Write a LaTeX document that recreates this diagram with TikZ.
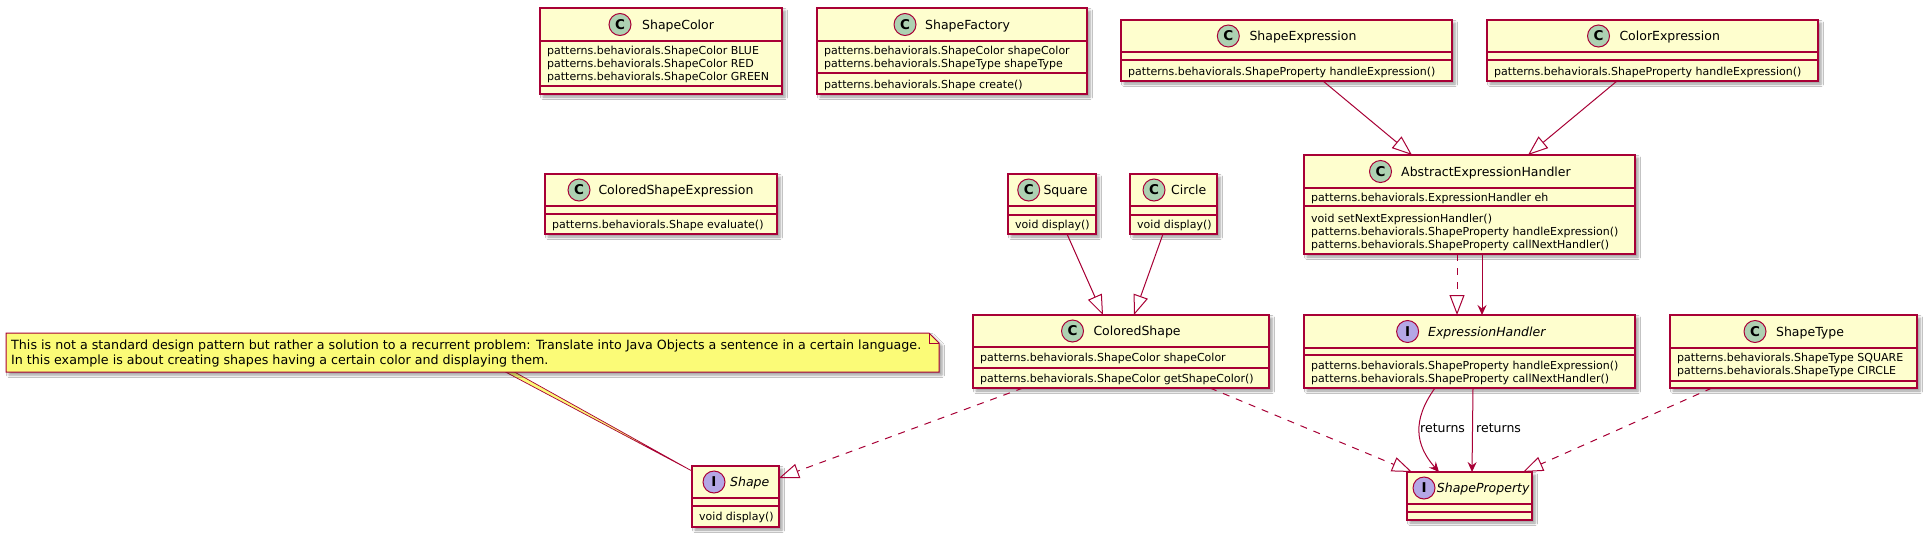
\documentclass[tikz,border=0pt]{standalone}
\usepackage{fontspec}
\setmainfont{DejaVu Sans}[ItalicFont={DejaVu Sans Oblique},BoldFont={DejaVu Sans Bold}]
\usetikzlibrary{arrows.meta,shadows.blur,calc}
\definecolor{bd}{HTML}{A80036}
\definecolor{boxfill}{HTML}{FEFECE}
\definecolor{ciconc}{HTML}{ADD1B2}
\definecolor{iiconc}{HTML}{B4A7E5}
\definecolor{notefill}{HTML}{FBFB77}
\tikzset{
  shd/.style={blur shadow={shadow xshift=3pt,shadow yshift=-3pt,shadow opacity=40,shadow blur radius=2.5pt}},
  cls/.style={draw=bd,fill=boxfill,line width=1.5pt,inner sep=0pt,outer sep=0pt,shd},
  divider/.style={draw=bd,line width=1.5pt},
  ttl/.style={font=\fontsize{12.5}{15}\selectfont,inner sep=0pt,anchor=base west},
  ittl/.style={font=\fontsize{12.5}{15}\selectfont\itshape,inner sep=0pt,anchor=base west},
  member/.style={font=\fontsize{11}{13}\selectfont,inner sep=0pt,anchor=base west},
  iconc/.style={circle,draw=bd,line width=1pt,fill=ciconc,minimum size=22pt,inner sep=0pt,font=\fontsize{13.5}{13.5}\selectfont\bfseries},
  iconi/.style={circle,draw=bd,line width=1pt,fill=iiconc,minimum size=22pt,inner sep=0pt,font=\fontsize{13.5}{13.5}\selectfont\bfseries},
  lnk/.style={draw=bd,line width=1pt},
  ext/.style={lnk,-{Triangle[open,length=20pt,width=15pt]}},
  impl/.style={ext,dash pattern=on 7pt off 7pt},
  assoc/.style={lnk,-{Stealth[length=10pt,width=9pt,inset=3.5pt]}},
  lbl/.style={font=\fontsize{12.5}{15}\selectfont,inner sep=0pt,anchor=base west},
  notetxt/.style={inner sep=0pt,anchor=base west},
}
% #1 name, #2 icon style, #3 letter, #4 icon x, #5 header centre y, #6 title x, #7 title style, #8 title
\newcommand\hdr[8]{%
  \node[#2] (#1icon) at (#4,#5) {#3};
  \node[#7] (#1title) at (#6,#5+4.5) {#8};}
\newcommand\mem[4]{\node[member] (#1) at (#2,#3) {#4};}
\newcommand\divl[2]{\draw[divider] (#1.west |- 0,#2) -- (#1.east |- 0,#2);}
\newlength\notew
\newcommand\notelinea{This is not a standard design pattern but rather a solution to a recurrent problem: Translate into Java Objects a sentence in a certain language.}
\begin{document}
\settowidth\notew{\fontsize{10}{12}\selectfont\notelinea}
\pgfmathsetmacro\nfs{10*910/\notew}
\begin{tikzpicture}[x=1pt,y=-1pt]
\fill[white] (0,0) rectangle (1927,536);
\useasboundingbox (0,0) rectangle (1927,536);

% ---------- ShapeColor
\node[cls,minimum width=242pt,minimum height=86pt] (sc) at (661,51) {};
\divl{sc}{41}\divl{sc}{86}
\hdr{sc}{iconc}{C}{620}{24.5}{642}{ttl}{ShapeColor}
\mem{sca}{547}{54}{patterns.behaviorals.ShapeColor BLUE}
\mem{scb}{547}{67}{patterns.behaviorals.ShapeColor RED}
\mem{scc}{547}{80}{patterns.behaviorals.ShapeColor GREEN}

% ---------- ShapeFactory
\node[cls,minimum width=270pt,minimum height=86pt] (sf) at (952,51) {};
\divl{sf}{41}\divl{sf}{73}
\hdr{sf}{iconc}{C}{905}{24.5}{925}{ttl}{ShapeFactory}
\mem{sfa}{824}{54}{patterns.behaviorals.ShapeColor shapeColor}
\mem{sfb}{824}{67}{patterns.behaviorals.ShapeType shapeType}
\mem{sfc}{824}{88}{patterns.behaviorals.Shape create()}

% ---------- ShapeExpression
\node[cls,minimum width=331pt,minimum height=61pt] (se) at (1286.5,50.5) {};
\divl{se}{52}\divl{se}{60}
\hdr{se}{iconc}{C}{1228.3}{36}{1249.3}{ttl}{ShapeExpression}
\mem{sea}{1128}{75}{patterns.behaviorals.ShapeProperty handleExpression()}

% ---------- ColorExpression
\node[cls,minimum width=331pt,minimum height=61pt] (ce) at (1652.5,50.5) {};
\divl{ce}{52}\divl{ce}{60}
\hdr{ce}{iconc}{C}{1598.5}{36}{1619.3}{ttl}{ColorExpression}
\mem{cea}{1494}{75}{patterns.behaviorals.ShapeProperty handleExpression()}

% ---------- ColoredShapeExpression
\node[cls,minimum width=232pt,minimum height=60pt] (cse) at (661,204) {};
\divl{cse}{206}\divl{cse}{214}
\hdr{cse}{iconc}{C}{579}{190}{598.3}{ttl}{ColoredShapeExpression}
\mem{csea}{552}{228}{patterns.behaviorals.Shape evaluate()}

% ---------- Square
\node[cls,minimum width=88pt,minimum height=60pt] (sq) at (1052,204) {};
\divl{sq}{206}\divl{sq}{215}
\hdr{sq}{iconc}{C}{1028.7}{190}{1043.3}{ttl}{Square}
\mem{sqa}{1015}{228}{void display()}

% ---------- Circle
\node[cls,minimum width=87pt,minimum height=60pt] (ci) at (1173.5,204) {};
\divl{ci}{206}\divl{ci}{215}
\hdr{ci}{iconc}{C}{1154}{190}{1171}{ttl}{Circle}
\mem{cia}{1137}{228}{void display()}

% ---------- AbstractExpressionHandler
\node[cls,minimum width=331pt,minimum height=99pt] (aeh) at (1469.5,204.5) {};
\divl{aeh}{188}\divl{aeh}{206}
\hdr{aeh}{iconc}{C}{1380.5}{171.5}{1401}{ttl}{AbstractExpressionHandler}
\mem{aeha}{1311}{201}{patterns.behaviorals.ExpressionHandler eh}
\mem{aehb}{1311}{222}{void setNextExpressionHandler()}
\mem{aehc}{1311}{235}{patterns.behaviorals.ShapeProperty handleExpression()}
\mem{aehd}{1311}{248}{patterns.behaviorals.ShapeProperty callNextHandler()}

% ---------- ColoredShape
\node[cls,minimum width=296pt,minimum height=73pt] (cs) at (1121,351.5) {};
\divl{cs}{347}\divl{cs}{368}
\hdr{cs}{iconc}{C}{1072.5}{331}{1093.3}{ttl}{ColoredShape}
\mem{csa}{980}{361}{patterns.behaviorals.ShapeColor shapeColor}
\mem{csb}{980}{382}{patterns.behaviorals.ShapeColor getShapeColor()}

% ---------- ExpressionHandler
\node[cls,minimum width=331pt,minimum height=73pt] (eh) at (1469.5,351.5) {};
\divl{eh}{348}\divl{eh}{355}
\hdr{eh}{iconi}{I}{1407.6}{331.5}{1427.9}{ittl}{ExpressionHandler}
\mem{eha}{1311}{369}{patterns.behaviorals.ShapeProperty handleExpression()}
\mem{ehb}{1311}{382}{patterns.behaviorals.ShapeProperty callNextHandler()}

% ---------- ShapeType
\node[cls,minimum width=247pt,minimum height=73pt] (st) at (1793.5,351.5) {};
\divl{st}{348}\divl{st}{381}
\hdr{st}{iconc}{C}{1755}{331.5}{1775.9}{ttl}{ShapeType}
\mem{sta}{1677}{361}{patterns.behaviorals.ShapeType SQUARE}
\mem{stb}{1677}{374}{patterns.behaviorals.ShapeType CIRCLE}

% ---------- Shape
\node[cls,minimum width=87pt,minimum height=61pt] (shape) at (735.5,496.5) {};
\divl{shape}{498}\divl{shape}{506}
\hdr{shape}{iconi}{I}{714}{482}{730}{ittl}{Shape}
\mem{shapea}{699}{520}{void display()}

% ---------- ShapeProperty
\node[cls,minimum width=125pt,minimum height=48pt] (sp) at (1469.5,496) {};
\divl{sp}{504}\divl{sp}{512}
\hdr{sp}{iconi}{I}{1424}{488}{1436.7}{ittl}{ShapeProperty}

% ---------- Note
\node[minimum width=933pt,minimum height=39pt,inner sep=0pt,outer sep=0pt] (note) at (472.5,352.5) {};
\filldraw[fill=notefill,draw=bd,line width=0.7pt] ([xshift=33pt]note.south) -- ([xshift=42pt]note.south) -- ([yshift=25.5pt]shape.west) -- cycle;
\path[draw=bd,fill=notefill,line width=1pt,shd] (note.north west) -- ([xshift=-10pt]note.north east) -- ([yshift=-10pt]note.north east) -- (note.south east) -- (note.south west) -- cycle;
\draw[bd,line width=1pt] ([xshift=-10pt]note.north east) -- ([xshift=-10pt,yshift=-10pt]note.north east) -- ([yshift=-10pt]note.north east);
\node[notetxt,font=\fontsize{\nfs}{\nfs}\selectfont] (notea) at (11,349.5) {\notelinea};
\node[notetxt,font=\fontsize{\nfs}{\nfs}\selectfont] (noteb) at (11,364.5) {In this example is about creating shapes having a certain color and displaying them.};

% ---------- Connectors
\draw[ext] ([xshift=36.5pt]se.south) -- ([xshift=-57.5pt]aeh.north);
\draw[ext] ([xshift=-35.5pt]ce.south) -- ([xshift=58.5pt]aeh.north);
\draw[ext] ([xshift=15pt]sq.south) -- ([xshift=-18pt]cs.north);
\draw[ext] ([xshift=-10.5pt]ci.south) -- ([xshift=13pt]cs.north);
\draw[impl] ([xshift=-12.5pt]aeh.south) -- ([xshift=-12.5pt]eh.north);
\draw[assoc] ([xshift=12.5pt]aeh.south) -- ([xshift=12.5pt]eh.north);
\draw[impl] ([xshift=-98pt]cs.south) -- ([yshift=18.5pt]shape.east);
\draw[impl] ([xshift=89pt]cs.south) -- ([xshift=-57.5pt]sp.north);
\draw[impl] ([xshift=-81.5pt]st.south) -- ([xshift=53.5pt]sp.north);
\draw[assoc] ([xshift=-34.5pt]eh.south) .. controls +(-23,32) and +(-24,-27) .. ([xshift=-30.5pt]sp.north);
\draw[assoc] ([xshift=3.5pt]eh.south) -- ([xshift=2.5pt]sp.north);
\node[lbl] (ret1) at (1420,432.5) {returns};
\node[lbl] (ret2) at (1476,432.5) {returns};
\end{tikzpicture}
\end{document}
